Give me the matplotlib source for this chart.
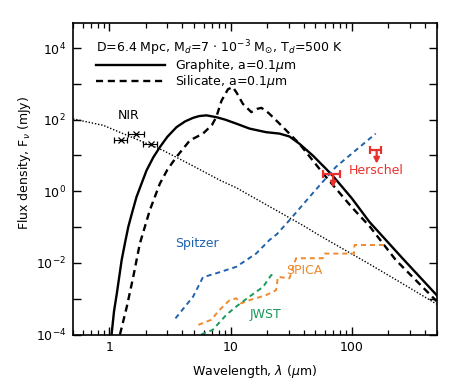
"""
SED of dust around a nearby source: graphite vs silicate models with
instrument sensitivities (Spitzer, SPICA, JWST) and Herschel upper limits
"""

import numpy as np
import matplotlib
matplotlib.use("Agg")
import matplotlib.pyplot as plt
from matplotlib.ticker import FixedLocator, NullFormatter, LogLocator

# model curves (wavelength in micron, log10 flux in mJy)
graphite_lam = [1.04, 1.09, 1.15, 1.26, 1.35, 1.43, 1.55, 1.67, 1.85, 2.02, 2.3, 2.6, 3.0,
                3.57, 4.2, 4.89, 5.5, 6.3, 7.6, 9.0, 11.1, 14.3, 19.6, 25.3, 30.5, 36.8,
                47.5, 61.0, 70.0, 100, 139, 261, 500]
graphite_logf = [-4.0, -3.35, -2.85, -1.92, -1.4, -0.99, -0.55, -0.16, 0.24, 0.58, 0.95,
                 1.23, 1.52, 1.79, 1.95, 2.05, 2.1, 2.12, 2.07, 2.0, 1.89, 1.75, 1.65,
                 1.61, 1.53, 1.33, 1.0, 0.63, 0.42, -0.2, -0.85, -1.87, -2.9]

silicate_lam = [1.22, 1.39, 1.57, 1.78, 2.15, 2.6, 3.0, 3.57, 4.6, 5.9, 7.0, 7.6, 8.4, 9.5,
                10.4, 11.2, 12.6, 14.8, 16.5, 17.9, 20.0, 22.3, 28.7, 36.8, 47.5, 61.1,
                100, 140, 230, 500]
silicate_logf = [-4.0, -3.22, -2.39, -1.46, -0.53, 0.21, 0.6, 0.96, 1.42, 1.61, 1.85, 2.07,
                 2.53, 2.85, 2.91, 2.75, 2.44, 2.21, 2.30, 2.33, 2.22, 2.07, 1.70, 1.33,
                 0.86, 0.40, -0.45, -0.98, -1.92, -3.07]

stellar_lam = [0.5, 0.89, 1.5, 2.77, 5.0, 8.13, 11.1, 20, 39.3, 53.8, 139, 250, 500]
stellar_logf = [2.02, 1.84, 1.52, 1.14, 0.69, 0.31, 0.10, -0.39, -0.95, -1.23, -2.03, -2.54, -3.15]

# instrument sensitivities
spitzer_lam = [3.5, 4.9, 5.9, 7.6, 11.1, 16.2, 20.9, 24.0, 30.5, 44.6, 73.7, 157]
spitzer_logf = [-3.55, -2.94, -2.4, -2.29, -2.11, -1.74, -1.36, -1.2, -0.81, -0.16, 0.68, 1.61]

spica_lam = [5.4, 6.9, 8.1, 9.8, 11.1, 12.2, 14.3, 19.6, 23.7, 24.5, 30.5, 34.6, 57.5,
             59.3, 104, 105, 196]
spica_logf = [-3.73, -3.59, -3.31, -3.04, -2.99, -3.13, -3.04, -2.90, -2.76, -2.39, -2.43,
              -1.87, -1.87, -1.74, -1.74, -1.50, -1.50]

jwst_lam = [5.7, 7.1, 9.2, 11.1, 14.3, 18.5, 21.6, 23.7]
jwst_logf = [-4.0, -3.87, -3.45, -3.22, -2.94, -2.67, -2.34, -2.34]

# NIR photometry (J, H, K)
nir_lam = [1.25, 1.65, 2.2]
nir_logf = [1.44, 1.59, 1.33]
nir_xlo = [0.17, 0.24, 0.30]
nir_xhi = [0.15, 0.28, 0.27]

# Herschel upper limits
hers_lam = [70, 160]
hers_logf = [0.47, 1.14]
hers_xlo = [12, 20]
hers_xhi = [10, 14]

BLUE = "#1f62ad"
ORANGE = "#ef8a2e"
GREEN = "#17995a"
RED = "#e8302c"

plt.rcParams["font.family"] = ["DejaVu Sans"]
plt.rcParams["mathtext.fontset"] = "dejavusans"

fig = plt.figure(figsize=(4.58, 3.82), dpi=100)
ax = fig.add_axes([0.1594, 0.1243, 0.794, 0.8155])

p = lambda v: 10 ** np.array(v)

ax.plot(stellar_lam, p(stellar_logf), color="k", lw=1.0, ls=(0, (1, 1.3)))
ax.plot(graphite_lam, p(graphite_logf), color="k", lw=1.7, label="Graphite, a=0.1$\\mu$m")
ax.plot(silicate_lam, p(silicate_logf), color="k", lw=1.7, ls=(0, (3, 2)),
        label="Silicate, a=0.1$\\mu$m")

ax.plot(spitzer_lam, p(spitzer_logf), color=BLUE, lw=1.4, ls=(0, (2.6, 2)))
ax.plot(spica_lam, p(spica_logf), color=ORANGE, lw=1.4, ls=(0, (2.6, 2)))
ax.plot(jwst_lam, p(jwst_logf), color=GREEN, lw=1.4, ls=(0, (2.6, 2)))

ax.errorbar(nir_lam, p(nir_logf), xerr=[nir_xlo, nir_xhi], fmt="x", color="k",
            ms=4, mew=0.9, elinewidth=0.8, capsize=2.5, capthick=0.8)

ax.errorbar(hers_lam, p(hers_logf), xerr=[hers_xlo, hers_xhi], fmt="none", ecolor=RED,
            elinewidth=1.6, capsize=3, capthick=1.6)
for lam, lf in zip(hers_lam, hers_logf):
    ax.annotate("", xy=(lam, 10 ** (lf - 0.37)), xytext=(lam, 10 ** lf),
                arrowprops=dict(arrowstyle="-|>", color=RED, lw=1.6,
                                mutation_scale=8, shrinkA=0, shrinkB=0))

ax.text(1.45, 131, "NIR", fontsize=9, ha="center", va="center")
ax.text(5.3, 0.035, "Spitzer", fontsize=9, color=BLUE, ha="center", va="center")
ax.text(40.7, 0.0063, "SPICA", fontsize=9, color=ORANGE, ha="center", va="center")
ax.text(19.4, 3.7e-4, "JWST", fontsize=9, color=GREEN, ha="center", va="center")
ax.text(159, 3.85, "Herschel", fontsize=9, color=RED, ha="center", va="center")

ax.set_xscale("log")
ax.set_yscale("log")
ax.set_xlim(0.5, 500)
ax.set_ylim(1e-4, 5e4)

ax.xaxis.set_major_locator(FixedLocator([1, 10, 100]))
ax.set_xticklabels(["1", "10", "100"])
ax.xaxis.set_minor_locator(LogLocator(base=10, subs=np.arange(2, 10), numticks=20))
ax.xaxis.set_minor_formatter(NullFormatter())

yt = [1e-4, 1e-3, 1e-2, 1e-1, 1, 10, 1e2, 1e3, 1e4]
ax.yaxis.set_major_locator(FixedLocator(yt))
ax.set_yticklabels(["$10^{-4}$", "", "$10^{-2}$", "", "$10^{0}$", "", "$10^{2}$", "",
                    "$10^{4}$"])
ax.yaxis.set_minor_locator(FixedLocator([]))

ax.tick_params(which="both", direction="in", top=True, right=True, labelsize=9)
ax.tick_params(which="major", length=6, width=1.0, pad=5)
ax.tick_params(which="minor", length=3.5, width=0.9)
for s in ax.spines.values():
    s.set_linewidth(1.2)

ax.set_xlabel("Wavelength, $\\lambda$ ($\\mu$m)", fontsize=9)
ax.set_ylabel("Flux density, F$_\\nu$ (mJy)", fontsize=9)
ax.xaxis.set_label_coords(0.5, -0.091)
ax.yaxis.set_label_coords(-0.111, 0.55)

leg = ax.legend(title="D=6.4 Mpc, M$_d$=7 $\\cdot$ 10$^{-3}$ M$_{\\odot}$, T$_d$=500 K",
                alignment="left", loc="upper left", bbox_to_anchor=(0.063, 0.95),
                frameon=False, fontsize=9, title_fontsize=9, handlelength=5.5,
                handletextpad=0.8, borderpad=0, borderaxespad=0, labelspacing=-0.08,
                handleheight=0.5)

fig.savefig("out.png", dpi=100)
